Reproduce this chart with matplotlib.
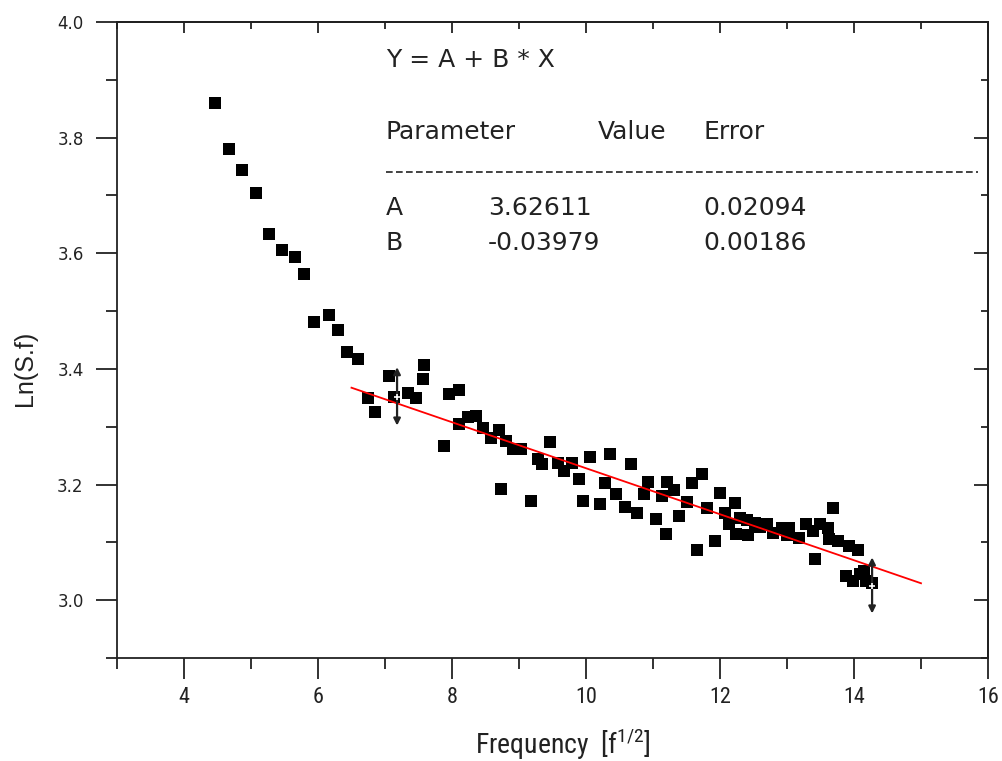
import matplotlib
matplotlib.use("Agg")
import matplotlib.pyplot as plt
from matplotlib.ticker import MultipleLocator, FormatStrFormatter
from matplotlib import font_manager
import numpy as np

# ---- data ----
freq = [4.46, 4.67, 4.87, 5.07, 5.27, 5.46, 5.66, 5.79, 5.94, 6.16,
        6.30, 6.43, 6.60, 6.75, 6.85, 7.06, 7.13, 7.34, 7.46, 7.57,
        7.58, 7.88, 7.96, 8.10, 8.10, 8.24, 8.36, 8.46, 8.58, 8.70,
        8.73, 8.81, 8.91, 9.03, 9.18, 9.28, 9.34, 9.46, 9.58, 9.67,
        9.79, 9.90, 9.96, 10.06, 10.21, 10.28, 10.36, 10.45, 10.58, 10.67,
        10.76, 10.87, 10.93, 11.04, 11.13, 11.19, 11.21, 11.31, 11.39, 11.51,
        11.58, 11.66, 11.73, 11.81, 11.93, 12.00, 12.07, 12.13, 12.22, 12.24,
        12.30, 12.40, 12.42, 12.52, 12.60, 12.70, 12.79, 12.93, 13.00, 13.03,
        13.18, 13.28, 13.39, 13.42, 13.49, 13.61, 13.63, 13.69, 13.76, 13.88,
        13.93, 13.99, 14.06, 14.09, 14.15, 14.18, 14.27]
ln_sf = [3.860, 3.780, 3.744, 3.704, 3.633, 3.605, 3.593, 3.564, 3.481, 3.494,
         3.468, 3.429, 3.418, 3.349, 3.325, 3.387, 3.352, 3.359, 3.349, 3.382,
         3.406, 3.266, 3.356, 3.364, 3.304, 3.316, 3.318, 3.297, 3.280, 3.295,
         3.193, 3.276, 3.262, 3.261, 3.171, 3.245, 3.236, 3.274, 3.238, 3.224,
         3.238, 3.210, 3.171, 3.247, 3.167, 3.202, 3.252, 3.184, 3.162, 3.235,
         3.150, 3.183, 3.205, 3.141, 3.181, 3.115, 3.204, 3.191, 3.146, 3.169,
         3.202, 3.086, 3.219, 3.160, 3.103, 3.186, 3.150, 3.132, 3.168, 3.115,
         3.143, 3.138, 3.112, 3.134, 3.126, 3.132, 3.117, 3.124, 3.112, 3.124,
         3.108, 3.132, 3.120, 3.072, 3.131, 3.124, 3.106, 3.160, 3.103, 3.042,
         3.093, 3.034, 3.087, 3.046, 3.051, 3.034, 3.029]

fit_A = 3.62611
fit_B = -0.03979
fit_A_err = 0.02094
fit_B_err = 0.00186
fit_range = [6.5, 15.0]

errbar_x = [7.18, 14.27]
errbar_lo = [3.302, 2.977]
errbar_hi = [3.403, 3.074]
errbar_mid = [3.352, 3.025]

xticks_major = [4, 6, 8, 10, 12, 14, 16]
yticks_major = [3.0, 3.2, 3.4, 3.6, 3.8, 4.0]

# narrow font for the x axis (fallbacks if not installed)
installed = {f.name for f in font_manager.fontManager.ttflist}
narrow = [n for n in ["Liberation Sans Narrow", "DejaVu Sans Condensed",
                      "Roboto Condensed", "Open Sans Condensed"] if n in installed]
narrow_family = narrow[:1] + ["Liberation Sans", "DejaVu Sans"]

# ---- figure ----
W, H = 1002, 761
fig = plt.figure(figsize=(W / 100, H / 100), dpi=100)
ax = fig.add_axes([117 / W, 1 - 658 / H, (988 - 117) / W, (658 - 22) / H])

ax.plot(freq, ln_sf, linestyle="none", marker="s", markersize=9.3,
        color="black", markeredgewidth=0, zorder=3)

xf = np.array(fit_range)
ax.plot(xf, fit_A + fit_B * xf, color="red", lw=1.3, zorder=4)

for x, lo, hi, mid in zip(errbar_x, errbar_lo, errbar_hi, errbar_mid):
    ax.annotate("", xy=(x, hi), xytext=(x, lo),
                arrowprops=dict(arrowstyle="<|-|>", color="#222222", lw=1.6,
                                mutation_scale=10, shrinkA=0, shrinkB=0),
                zorder=5)
    ax.plot([x], [mid], marker="+", color="white", markersize=5, mew=1.2, zorder=6)

ax.set_xlim(3, 16)
ax.set_ylim(2.9, 4.0)

for s in ax.spines.values():
    s.set_linewidth(1.3)
    s.set_color("#222222")

ax.set_xticks(xticks_major)
ax.set_yticks(yticks_major)
ax.xaxis.set_minor_locator(MultipleLocator(1))
ax.yaxis.set_minor_locator(MultipleLocator(0.1))
ax.yaxis.set_major_formatter(FormatStrFormatter("%.1f"))
ax.tick_params(which="major", direction="out", length=15, width=1.3, color="#222222")
ax.tick_params(which="minor", direction="out", length=8, width=1.3, color="#222222")
ax.tick_params(axis="x", which="major", pad=6)
ax.tick_params(axis="y", which="major", pad=9)

for lab in ax.get_xticklabels():
    lab.set_family(narrow_family)
    lab.set_fontsize(16)
    lab.set_color("#222222")
for lab in ax.get_yticklabels():
    lab.set_family(["DejaVu Sans"])
    lab.set_fontsize(12)
    lab.set_color("#222222")

# mirrored inward ticks on top and right
top = ax.secondary_xaxis("top")
top.set_xticks(xticks_major)
top.xaxis.set_minor_locator(MultipleLocator(1))
top.tick_params(which="major", direction="in", length=8, width=1.3, labeltop=False, color="#222222")
top.tick_params(which="minor", direction="in", length=5, width=1.3, color="#222222")
top.spines["top"].set_linewidth(1.3)

right = ax.secondary_yaxis("right")
right.set_yticks(yticks_major)
right.yaxis.set_minor_locator(MultipleLocator(0.1))
right.tick_params(which="major", direction="in", length=10, width=1.3, labelright=False, color="#222222")
right.tick_params(which="minor", direction="in", length=5, width=1.3, color="#222222")
right.spines["right"].set_linewidth(1.3)

# axis labels
fig.text(25 / W, 1 - 368 / H, "Ln(S.f)", rotation=90, ha="center", va="center",
         fontsize=18, family=["Liberation Sans", "DejaVu Sans"], color="#222222")
fig.text(563 / W, 1 - 744 / H, r"Frequency  [f$^{\mathregular{1/2}}$]", ha="center", va="center",
         fontsize=20, family=narrow_family, color="#222222")

# fit results box
tfont = dict(fontsize=18, family=["DejaVu Sans"], color="#222222", va="center", ha="left")
def put(px, py, s):
    fig.text(px / W, 1 - py / H, s, **tfont)

put(386, 60, "Y = A + B * X")
put(386, 132, "Parameter")
put(598, 132, "Value")
put(703, 132, "Error")
ax.plot([(386 - 117) / 67 + 3, (978 - 117) / 67 + 3], [4 - (172 - 22) / 577.5] * 2,
        color="#222222", lw=1.2, linestyle=(0, (4, 2)))
put(386, 208, "A")
put(488, 208, f"{fit_A:.5f}")
put(703, 208, f"{fit_A_err:.5f}")
put(386, 243, "B")
put(488, 243, f"{fit_B:.5f}")
put(703, 243, f"{fit_B_err:.5f}")

fig.savefig("out.png", dpi=100)
